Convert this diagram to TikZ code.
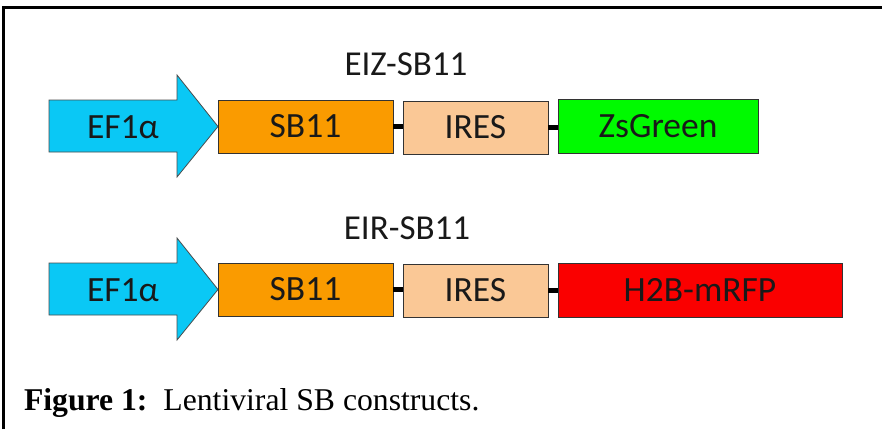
\documentclass[tikz,border=0pt]{standalone}
\usepackage{fontspec}
\setmainfont{Liberation Serif}
\newfontfamily\labelfont{Carlito}
\begin{document}
\begin{tikzpicture}[x=1pt,y=-1pt,
  every node/.style={inner sep=0pt,outer sep=0pt},
  boxtext/.style={font=\labelfont\fontsize{35.5}{40}\selectfont,text=black!90},
  gene/.style={boxtext,draw=black!80,line width=0.9pt,anchor=north west},
  link/.style={line width=4.5pt,black},
  title/.style={font=\labelfont\fontsize{35}{40}\selectfont,text=black!90,anchor=base},
  promoter/.style={draw=black!70,line width=0.8pt,fill=promcol}]
\definecolor{promcol}{RGB}{10,200,245}
\definecolor{sbcol}{RGB}{250,155,0}
\definecolor{irescol}{RGB}{250,200,150}
\definecolor{zscol}{RGB}{0,250,0}
\definecolor{rfpcol}{RGB}{250,0,0}
\useasboundingbox (0,0) rectangle (882,429);
\fill[white] (0,0) rectangle (882,429);
% partial frame
\draw[line width=2.5pt] (3.5,429) -- (3.5,7.5) -- (882,7.5);

% EIZ-SB11 construct
\node[title] (t1) at (406,75) {EIZ-SB11};
\draw[promoter] (49,100) -- (177,100) -- (177,75) -- (218,126.5) -- (177,177) -- (177,152) -- (49,152) -- cycle;
\node[boxtext] (p1) at (123,127) {EF1α};
\node[gene,fill=sbcol,minimum width=175pt,minimum height=53pt] (sb1) at (218,100) {SB11};
\node[gene,fill=irescol,minimum width=145pt,minimum height=53pt] (ir1) at (403,101) {IRES};
\node[gene,fill=zscol,minimum width=200pt,minimum height=54pt] (zs1) at (558,99) {ZsGreen};
\draw[link] (sb1.east) -- (sb1.east -| ir1.west);
\draw[link] (ir1.east) -- (ir1.east -| zs1.west);

% EIR-SB11 construct
\node[title] (t2) at (407,239) {EIR-SB11};
\draw[promoter] (49,263) -- (177,263) -- (177,238) -- (218,289.5) -- (177,340) -- (177,315) -- (49,315) -- cycle;
\node[boxtext] (p2) at (123,290) {EF1α};
\node[gene,fill=sbcol,minimum width=175pt,minimum height=53pt] (sb2) at (218,263) {SB11};
\node[gene,fill=irescol,minimum width=145pt,minimum height=53pt] (ir2) at (403,264) {IRES};
\node[gene,fill=rfpcol,minimum width=284pt,minimum height=54pt] (rf2) at (558,263) {H2B-mRFP};
\draw[link] (sb2.east) -- (sb2.east -| ir2.west);
\draw[link] (ir2.east) -- (ir2.east -| rf2.west);

% caption
\node[anchor=base west,font=\fontsize{31.7}{36}\selectfont] (cap) at (24,410)
  {\textbf{Figure 1:}\ \ Lentiviral SB constructs.};
\end{tikzpicture}
\end{document}
